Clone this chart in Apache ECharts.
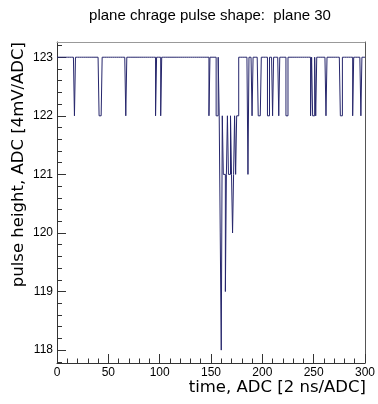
<!DOCTYPE html>
<html>
<head>
<meta charset="utf-8">
<script src="https://cdn.jsdelivr.net/npm/echarts@6/dist/echarts.min.js"></script>
<style>html,body{margin:0;padding:0;background:#fff}#c{width:378px;height:404px}</style>
</head>
<body>
<div id="c"></div>
<script>
// histogram bin contents, bins 0..299 (bin width 1 ADC)
const binValues = [
  123,123,123,123,123,123,123,123,123,123, 123,123,123,123,123,123,123,122,123,123, 123,123,123,123,123,123,123,123,123,123,
  123,123,123,123,123,123,123,123,123,123, 123,122,122,122,123,123,123,123,123,123, 123,123,123,123,123,123,123,123,123,123,
  123,123,123,123,123,123,123,122,123,123, 123,123,123,123,123,123,123,123,123,123, 123,123,123,123,123,123,123,123,123,123,
  123,123,123,123,123,123,122,123,123,123, 123,122,123,123,123,123,123,123,123,123, 123,123,123,123,123,123,123,123,123,123,
  123,123,123,123,123,123,123,123,123,123, 123,123,123,123,123,123,123,123,123,123, 123,123,123,123,123,123,123,123,122,123,
  123,123,123,123,123,122,122,123,122,120, 118,122,121,121,119,121,122,121,121,122, 121,120,121,122,121,122,122,123,123,123,
  123,123,123,123,123,123,121,123,123,123, 122,123,123,123,123,123,122,122,122,123, 123,123,123,123,123,122,122,123,123,123,
  122,123,123,123,123,123,122,123,123,123, 123,123,123,122,122,123,123,123,123,123, 123,123,123,123,123,123,123,123,123,123,
  123,123,123,123,123,123,123,122,123,122, 122,123,122,123,123,123,123,123,123,123, 123,123,122,123,123,123,123,123,123,123,
  123,123,123,123,123,123,122,122,123,123, 123,123,123,123,123,123,123,123,122,123, 123,123,123,123,123,123,122,123,123,123
];
const xMin = 0, xMax = 300, xStep = 50;
const yMin = 117.78, yMax = 123.26;
const yMajorTicks = [118, 119, 120, 121, 122, 123];
const yMinorTicks = [117.8, 118.2, 118.4, 118.6, 118.8, 119.2, 119.4, 119.6, 119.8, 120.2, 120.4, 120.6, 120.8,
                     121.2, 121.4, 121.6, 121.8, 122.2, 122.4, 122.6, 122.8, 123.2];
const titleText = 'plane chrage pulse shape:  plane 30';
const xTitle = 'time, ADC [2 ns/ADC]';
const yTitle = 'pulse height, ADC [4mV/ADC]';

const stepData = binValues.map((v, i) => [i, v]);
stepData.push([binValues.length, binValues[binValues.length - 1]]);

const chart = echarts.init(document.getElementById('c'), null, {renderer: 'canvas'});
const tickFont = {color: '#000', fontSize: 12, fontFamily: 'Liberation Sans, Arial, sans-serif'};
chart.setOption({
  animation: false,
  backgroundColor: '#fff',
  grid: {left: 57, right: 12, top: 42, bottom: 41},
  xAxis: [{
    type: 'value', min: xMin, max: xMax, interval: xStep, position: 'bottom',
    axisLine: {show: true, onZero: false, lineStyle: {color: '#333', width: 1}},
    axisTick: {show: true, inside: true, length: 9, lineStyle: {color: '#333'}},
    minorTick: {show: true, splitNumber: 5, length: 4.5, lineStyle: {color: '#333'}},
    axisLabel: Object.assign({margin: 4}, tickFont),
    splitLine: {show: false}
  }, {
    type: 'value', min: xMin, max: xMax, position: 'top',
    axisLine: {show: true, onZero: false, lineStyle: {color: '#999', width: 1}},
    axisTick: {show: false}, axisLabel: {show: false}, splitLine: {show: false}
  }],
  yAxis: [{
    type: 'value', min: yMin, max: yMax, position: 'left',
    axisLine: {show: true, onZero: false, lineStyle: {color: '#333', width: 1}},
    axisTick: {show: true, inside: true, length: 9, customValues: yMajorTicks, lineStyle: {color: '#333'}},
    axisLabel: Object.assign({margin: 4, customValues: yMajorTicks}, tickFont),
    splitLine: {show: false}
  }, {
    type: 'value', min: yMin, max: yMax, position: 'left',
    axisLine: {show: false},
    axisTick: {show: true, inside: true, length: 5, customValues: yMinorTicks, lineStyle: {color: '#333'}},
    axisLabel: {show: false}, splitLine: {show: false}
  }, {
    type: 'value', min: yMin, max: yMax, position: 'right',
    axisLine: {show: true, onZero: false, lineStyle: {color: '#555', width: 1}},
    axisTick: {show: false}, axisLabel: {show: false}, splitLine: {show: false}
  }],
  series: [{
    type: 'line', step: 'end', data: stepData, xAxisIndex: 0, yAxisIndex: 0,
    symbol: 'none', showSymbol: false,
    lineStyle: {color: '#26266c', width: 1}
  }],
  graphic: [
    {type: 'text', x: 210, y: 16, style: {text: titleText, align: 'center', verticalAlign: 'middle',
      font: '15px "Liberation Sans", Arial, sans-serif', fill: '#000'}},
    {type: 'text', x: 366, y: 388, style: {text: xTitle, align: 'right', verticalAlign: 'middle',
      font: '16.5px "DejaVu Sans", sans-serif', fill: '#000'}},
    {type: 'text', x: 19, y: 42, rotation: Math.PI / 2, style: {text: yTitle, align: 'right', verticalAlign: 'middle',
      font: '16.5px "DejaVu Sans", sans-serif', fill: '#000'}}
  ]
});
</script>
</body>
</html>
